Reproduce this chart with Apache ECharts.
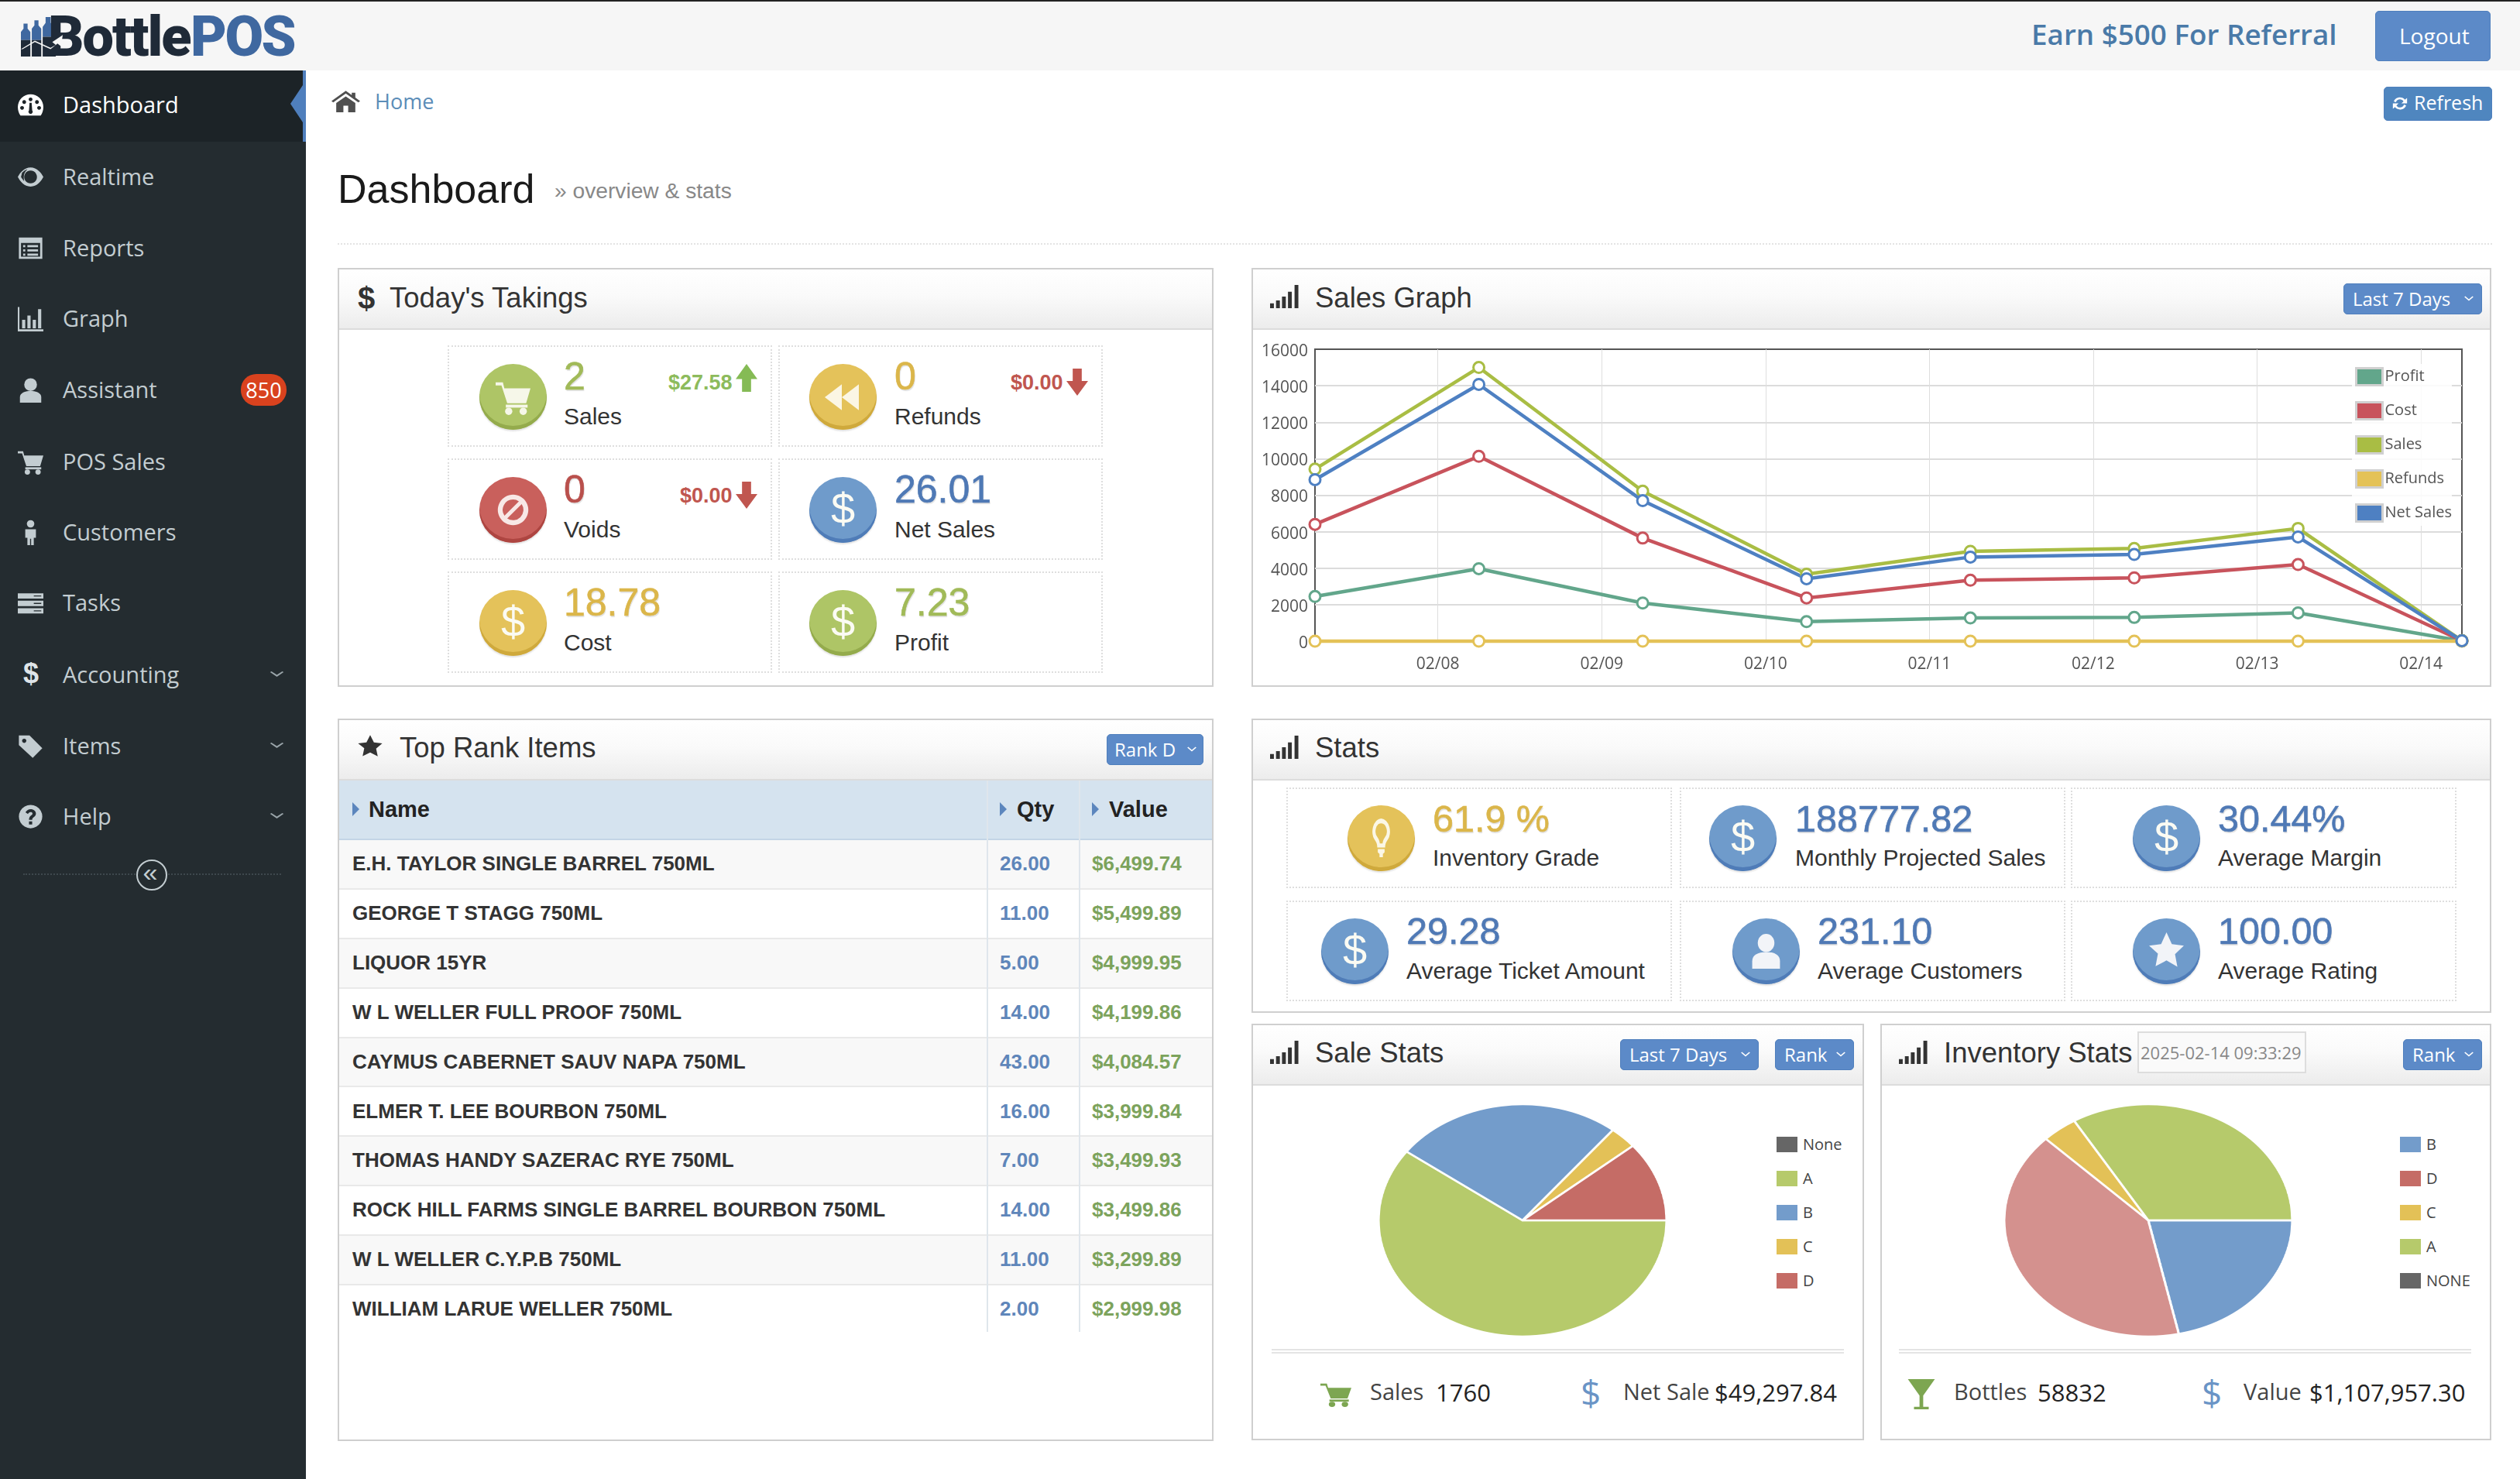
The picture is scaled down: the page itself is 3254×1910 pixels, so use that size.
<!DOCTYPE html>
<html>
<head>
<meta charset="utf-8">
<title>BottlePOS Dashboard</title>
<script src="https://cdn.jsdelivr.net/npm/echarts@6/dist/echarts.min.js"></script>
<style>
html, body { margin: 0; padding: 0; width: 3254px; height: 1910px; overflow: hidden; background: #fff; }
#page { position: absolute; left: 0; top: 0; width: 3254px; height: 1910px; overflow: hidden; font-family: "Liberation Sans", Arial, sans-serif; color: #333; }
#page div, #page span, #page svg { position: absolute; }
.t { white-space: nowrap; line-height: 1; transform: translateY(-50%); }
.os { font-family: "Open Sans", sans-serif; }
.panel { box-sizing: border-box; border: 2px solid #cfcfcf; background: #fff; }
.head { box-sizing: border-box; background: linear-gradient(#fff, #fafafa 45%, #ececec); border-bottom: 2px solid #dcdcdc; }
.tile { box-sizing: border-box; border: 2px dotted #dedede; }
.btn { box-sizing: border-box; background: #5c8ac8; border-radius: 5px; border: 1px solid #4f7fbd; }
.coin { border-radius: 50%; }
</style>
</head>
<body>
<div id="page"></div>
<script>
// ---- chart data ----
const salesSeriesNames = ['Profit', 'Cost', 'Sales', 'Refunds', 'Net Sales'];
const salesTimes = [
    Date.UTC(2025, 1, 7, 6), Date.UTC(2025, 1, 8, 6), Date.UTC(2025, 1, 9, 6), Date.UTC(2025, 1, 10, 6),
    Date.UTC(2025, 1, 11, 6), Date.UTC(2025, 1, 12, 6), Date.UTC(2025, 1, 13, 6), Date.UTC(2025, 1, 14, 6)
];
const profitValues = [2450, 3970, 2090, 1070, 1270, 1300, 1550, 7.23];
const costValues = [6400, 10130, 5650, 2370, 3340, 3470, 4200, 18.78];
const salesValues = [9430, 15000, 8220, 3670, 4925, 5080, 6180, 27.58];
const refundValues = [0, 0, 0, 0, 0, 0, 0, 0];
const netSalesValues = [8850, 14070, 7700, 3420, 4610, 4750, 5710, 26.01];
const salesColors = ['#62a68b', '#c8535c', '#a9bd44', '#e4c257', '#4e80c2'];

const saleStatNames = ['None', 'A', 'B', 'C', 'D'];
const saleStatValues = [0, 60.1, 25.7, 3.1, 11.1];
const saleStatColors = ['#666666', '#b6ca6b', '#739ccb', '#e3c157', '#c56c66'];

const invStatNames = ['B', 'D', 'C', 'A', 'NONE'];
const invStatValues = [21.6, 40.8, 4.0, 33.6, 0];
const invStatColors = ['#739ccb', '#d4918e', '#e3c157', '#b6ca6b', '#666666'];
const invLegendColors = ['#739ccb', '#c56c66', '#e3c157', '#b6ca6b', '#666666'];

// ---- page text ----
const menuItems = ['Dashboard', 'Realtime', 'Reports', 'Graph', 'Assistant', 'POS Sales', 'Customers', 'Tasks', 'Accounting', 'Items', 'Help'];
const menuIcons = ['gauge', 'eye', 'list', 'bars', 'user', 'cart', 'person', 'tasks', 'dollar', 'tag', 'help'];
const itemNames = [
    'E.H. TAYLOR SINGLE BARREL 750ML', 'GEORGE T STAGG 750ML', 'LIQUOR 15YR', 'W L WELLER FULL PROOF 750ML',
    'CAYMUS CABERNET SAUV NAPA 750ML', 'ELMER T. LEE BOURBON 750ML', 'THOMAS HANDY SAZERAC RYE 750ML',
    'ROCK HILL FARMS SINGLE BARREL BOURBON 750ML', 'W L WELLER C.Y.P.B 750ML', 'WILLIAM LARUE WELLER 750ML'
];
const itemQty = ['26.00', '11.00', '5.00', '14.00', '43.00', '16.00', '7.00', '14.00', '11.00', '2.00'];
const itemValue = ['$6,499.74', '$5,499.89', '$4,999.95', '$4,199.86', '$4,084.57', '$3,999.84', '$3,499.93', '$3,499.86', '$3,299.89', '$2,999.98'];

const page = document.getElementById('page');
const ICONS = {
    cart: '<path d="M0 2h5l1 4h18l-3 10H8L4 4H0z"/><rect x="7" y="17" width="15" height="2"/><circle cx="9" cy="21.5" r="2.5"/><circle cx="19" cy="21.5" r="2.5"/>',
    rewind: '<path d="M12 2v20L1 12zM23 2v20L12 12z"/>',
    ban: '<path fill-rule="evenodd" d="M12 1a11 11 0 1 0 .01 0zM12 4.500a7.500 7.500 0 0 1 4.200 1.300L5.800 16.200A7.500 7.500 0 0 1 12 4.500zM18.200 7.800a7.500 7.500 0 0 1-10.400 10.400z"/>',
    star: '<path d="M12 1l3.400 7.300 7.600.9-5.600 5.300 1.500 7.800L12 18.400 5.100 22l1.500-7.800L1 9.200l7.600-.9z"/>',
    user: '<circle cx="12" cy="7" r="6"/><path d="M2 24v-5c0-4 4-6 10-6s10 2 10 6v5z"/>',
    home: '<path d="M12 1L0 12l1.500 1.500L12 4l10.500 9.500L24 12l-4-3.700V3h-3v2.500zM4 14v10h6v-7h4v7h6V14l-8-7z"/>',
    signal: '<rect x="0" y="19" width="3.200" height="5"/><rect x="5" y="16" width="3.200" height="8"/><rect x="10" y="12" width="3.200" height="12"/><rect x="15" y="7" width="3.200" height="17"/><rect x="20.500" y="0" width="3.200" height="24"/>',
    eye: '<path fill-rule="evenodd" d="M12 3C6 3 2 8 0 12c2 4 6 9 12 9s10-5 12-9c-2-4-6-9-12-9zm0 3a6 6 0 1 1-.01 0zM4 8c1-1 3-3 5-3-3 2-4 6-3 11-1-1-3-4-3-4z"/>',
    list: '<path fill-rule="evenodd" d="M1 2h22v20H1zM3 7v13h18V7zM5 9h2v2H5zm4 0h10v2H9zM5 13h2v2H5zm4 0h10v2H9zM5 17h2v2H5zm4 0h10v2H9z"/>',
    bars: '<path d="M0 1h1.500v21H24v2H0zM4 13h3v8H4zM9 9h3v12H9zM14 13h3v8h-3zM19 3h3v18h-3z"/>',
    person: '<circle cx="12" cy="4" r="3.500"/><path d="M7 9h10v8h-2v7h-2.500v-6h-1v6H9v-7H7z"/>',
    tasks: '<path fill-rule="evenodd" d="M0 3h24v5H0zM15 5v1h7V5zM0 10h24v5H0zM15 12v1h7v-1zM0 17h24v5H0zM15 19v1h7v-1z"/>',
    tag: '<path fill-rule="evenodd" d="M1 2h10l12 12-9 9L1 11zM6 5a2 2 0 1 0 .01 0z"/>',
    help: '<path fill-rule="evenodd" d="M12 1a11 11 0 1 0 .01 0zM12 5c3 0 5 1.800 5 4.200 0 3-3.500 3.200-3.500 5.800h-3c0-4 3.300-4.200 3.300-5.800 0-.8-.8-1.300-1.800-1.300-1.100 0-2 .7-2.500 1.700L7.200 8C8.200 6.200 9.800 5 12 5zM10.500 16.500h3v3h-3z"/>',
    gauge: '<path fill-rule="evenodd" d="M12 2a12 12 0 0 0-12 12c0 3 1 6 2.500 8h19c1.500-2 2.500-5 2.500-8A12 12 0 0 0 12 2zM12 5a1.800 1.800 0 1 1-.01 0zM6 7.500a1.800 1.800 0 1 1-.01 0zM18 7.500a1.800 1.800 0 1 1-.01 0zM4 13a1.800 1.800 0 1 1-.01 0zM20 13a1.800 1.800 0 1 1-.01 0zM11 10h2l.5 7a2 2 0 1 1-3 0z"/>',
    glass: '<path d="M1 0h22L13.500 13v9H18v2H6v-2h4.500v-9z"/>',
    refresh: '<path d="M12 3c3 0 5.500 1.300 7 3.500L22 4v8h-8l3-3c-1-1.800-3-3-5-3-2.800 0-5 1.800-5.700 4.300L3.300 9C4.400 5.500 7.900 3 12 3zM2 12h8l-3 3c1 1.800 3 3 5 3 2.800 0 5-1.800 5.700-4.300l3 1.300C19.600 18.500 16.100 21 12 21c-3 0-5.500-1.300-7-3.500L2 20z"/>',
    bulb: '<path fill-rule="evenodd" d="M12 0a8 8 0 0 0-5 14c1.200 1.200 1.500 2.500 1.500 4h7c0-1.500.3-2.800 1.500-4a8 8 0 0 0-5-14zm0 3a5 5 0 0 1 3 9c-1 1-1.500 2-1.800 3.500h-2.400C10.500 14 10 13 9 12a5 5 0 0 1 3-9zM9 19h6v2l-1.500 1v2h-3v-2L9 21z"/>',
    up: '<path d="M12 0l12 13h-7v11H7V13H0z"/>',
    down: '<path d="M7 0h10v11h7L12 24 0 11h7z"/>',
    chev: '<path d="M2 7l2-2 8 8 8-8 2 2-10 10z"/>',
    logoDark: '<path d="M0 24V14h6.500v10zM7.500 24V14H14v10zM15 24V12h9v12z"/>',
    logoBlue: '<path d="M0 14V9l1.800-2V4h2.800v3l1.900 2v5zM7.500 14V7l1.800-2V2h2.800v3L14 7v7zM15 12V6l2-2.500V0h3.500v3.500L24 6v6z" fill="#3f68a0"/>',
    logoLine: '<path d="M0 21l8-6 9 5L20 18l-2-2 6-5-1 8-2-2-4 4-9-5-7 5z"/>'
};

function box(x, y, w, h, cls, css) {
    const el = document.createElement('div');
    if (cls) el.className = cls;
    el.style.cssText = `left:${x}px;top:${y}px;width:${w}px;height:${h}px;${css || ''}`;
    page.appendChild(el);
    return el;
}

function txt(s, x, cy, size, color, css, cls) {
    const el = document.createElement('span');
    el.className = 't ' + (cls || '');
    el.textContent = s;
    el.style.cssText = `left:${x}px;top:${cy}px;font-size:${size}px;color:${color};${css || ''}`;
    page.appendChild(el);
    return el;
}

function ico(name, x, y, w, h, color) {
    const holder = document.createElementNS('http://www.w3.org/2000/svg', 'svg');
    holder.setAttribute('viewBox', '0 0 24 24');
    holder.setAttribute('preserveAspectRatio', 'none');
    holder.style.cssText = `left:${x}px;top:${y}px;width:${w}px;height:${h}px;fill:${color};`;
    holder.innerHTML = ICONS[name];
    page.appendChild(holder);
}

function button(label, x, y, w, h) {
    box(x, y, w, h, 'btn');
    txt(label, x + 12, y + h / 2, 24, '#fff', '', 'os');
    ico('chev', x + w - 24, y + h / 2 - 6, 14, 12, '#fff');
}

function panel(x, y, w, h, headH) {
    box(x, y, w, h, 'panel');
    box(x + 2, y + 2, w - 4, headH, 'head');
}

function coin(x, y, color, dark, icon) {
    box(x, y, 87, 85, 'coin', `background:${color};box-shadow:inset 0 -5px 0 ${dark},0 2px 2px rgba(0,0,0,.12);`);
    if (icon === '$') {
        txt('$', x + 43.500, y + 41, 56, '#fbfbf3', 'transform:translate(-50%,-50%);');
    } else if (icon === 'user') {
        ico('user', x + 22, y + 18, 43, 47, '#f2f4f8');
    } else if (icon === 'star') {
        ico('star', x + 19, y + 16, 49, 50, '#f2f4f8');
    } else if (icon === 'bulb') {
        ico('bulb', x + 26, y + 17, 35, 50, '#fbf7e6');
    } else if (icon === 'cart') {
        ico('cart', x + 21, y + 20, 45, 46, '#f6f7e9');
    } else if (icon === 'rewind') {
        ico('rewind', x + 18, y + 23, 48, 40, '#fbf6e4');
    } else if (icon === 'ban') {
        ico('ban', x + 22, y + 21, 43, 43, '#f8e8e6');
    }
}

const GREEN = ['#aec566', '#94ab4c', '#a1ba58'];
const YELLOW = ['#e4c25a', '#cfa93c', '#dbb64a'];
const RED = ['#c9605c', '#ae4541', '#b9504c'];
const BLUE = ['#6f9bcb', '#4f7cb8', '#4f79b5'];

function tile(x, y, w, h, coinX, textX, theme, icon, value, label, coinY, valueY, labelY, valueSize) {
    box(x, y, w, h, 'tile');
    coin(coinX, coinY, theme[0], theme[1], icon);
    txt(value, textX, valueY, valueSize || 50, theme[2], '-webkit-text-stroke:0.6px;text-shadow:1px 2px 1px rgba(0,0,0,.12);');
    txt(label, textX, labelY, 30, '#333');
}

// ---- top bar ----
box(0, 0, 3254, 91, '', 'background:#f6f6f6;border-top:2px solid #222;box-sizing:border-box;');
ico('logoBlue', 27, 22, 45, 51, '#3f68a0');
ico('logoDark', 27, 22, 45, 51, '#1f2a38');
txt('Bottle', 62, 48, 72, '#1f2a38', 'font-family:Roboto;font-weight:900;letter-spacing:-2px;');
txt('POS', 246, 48, 72, '#3f68a0', 'font-family:Roboto;font-weight:900;letter-spacing:-2.500px;');
ico('logoLine', 27, 25, 54, 44, '#f6f6f6');
txt('Earn $500 For Referral', 2623, 44, 36.800, '#4a7aa8', 'font-weight:600;', 'os');
box(3067, 14, 149, 65, 'btn');
txt('Logout', 3098, 46, 28, '#fff', '', 'os');

// ---- side menu ----
box(0, 91, 395, 1819, '', 'background:#242c30;');
box(0, 91, 391, 92, '', 'background:#1c2327;');
box(391, 91, 4, 92, '', 'background:#4f7fbd;');
box(375, 104, 20, 60, '', 'background:#4f7fbd;clip-path:polygon(100% 0,0 50%,100% 100%);');
const menuY = [134, 227, 319, 410, 502, 595, 686, 777, 870, 962, 1053];
menuItems.forEach((m, i) => {
    const c = i === 0 ? '#ffffff' : '#c3cdd1';
    if (menuIcons[i] === 'dollar') txt('$', 30, menuY[i], 36, '#dfe5e8', 'font-weight:bold;');
    else ico(menuIcons[i], 23, menuY[i] - 15, 33, 33, i === 0 ? '#fff' : '#c3cdd1');
    txt(m, 81, menuY[i], 29, c, '', 'os');
});
box(311, 483, 59, 41, '', 'background:#d9421e;border-radius:20px;');
txt('850', 340.500, 503, 27, '#fff', 'transform:translate(-50%,-50%);', 'os');
[871, 963, 1054].forEach(y => ico('chev', 347, y - 7, 21, 14, '#9aa5aa'));
box(30, 1128, 333, 2, '', 'border-top:2px dotted #3e484d;');
box(176, 1110, 36, 36, '', 'border:2px solid #c3cdd1;border-radius:50%;background:#242c30;');
txt('«', 194, 1126, 34, '#c3cdd1', 'transform:translate(-50%,-50%);');

// ---- breadcrumb and title ----
ico('home', 428, 116, 37, 29, '#4f4f4f');
txt('Home', 484, 130, 27, '#5b8db8', '', 'os');
box(3078, 112, 140, 44, 'btn', 'background:#4f86bf;');
ico('refresh', 3088, 123, 22, 21, '#fff');
txt('Refresh', 3117, 132, 25, '#fff', '', 'os');
txt('Dashboard', 436, 244, 52, '#1a1a1a');
txt('» overview & stats', 716, 246, 28.200, '#888');
box(436, 314, 2782, 2, '', 'border-top:2px dotted #e3e3e3;');

// ---- Today's Takings ----
panel(436, 346, 1131, 541, 78);
txt('$', 462, 385, 40, '#333', 'font-weight:bold;');
txt("Today's Takings", 503, 385, 36.500, '#333');
tile(578, 446, 419, 131, 619, 728, GREEN, 'cart', '2', 'Sales', 470, 486, 538);
tile(1005, 446, 419, 131, 1045, 1155, YELLOW, 'rewind', '0', 'Refunds', 470, 486, 538);
tile(578, 592, 419, 131, 619, 728, RED, 'ban', '0', 'Voids', 616, 632, 684);
tile(1005, 592, 419, 131, 1045, 1155, BLUE, '$', '26.01', 'Net Sales', 616, 632, 684);
tile(578, 738, 419, 131, 619, 728, YELLOW, '$', '18.78', 'Cost', 762, 778, 830);
tile(1005, 738, 419, 131, 1045, 1155, GREEN, '$', '7.23', 'Profit', 762, 778, 830);
txt('$27.58', 863, 494, 27, '#8dbb5c', 'font-weight:bold;');
ico('up', 950, 470, 28, 36, '#85bb55');
txt('$0.00', 1305, 494, 27, '#c0564f', 'font-weight:bold;');
ico('down', 1377, 476, 28, 35, '#c0564f');
txt('$0.00', 878, 640, 27, '#c0564f', 'font-weight:bold;');
ico('down', 950, 622, 28, 35, '#c0564f');

// ---- Sales Graph ----
panel(1616, 346, 1601, 541, 78);
ico('signal', 1640, 368, 37, 30, '#333');
txt('Sales Graph', 1698, 385, 36.500, '#333');
button('Last 7 Days', 3026, 366, 179, 40);

// ---- Top Rank Items ----
panel(436, 928, 1131, 933, 78);
ico('star', 461, 948, 34, 31, '#333');
txt('Top Rank Items', 516, 966, 36.500, '#333');
box(1429, 948, 125, 40, 'btn');
txt('Rank D', 1439, 968, 24, '#fff', '', 'os');
ico('chev', 1532, 962, 14, 12, '#fff');
box(438, 1008, 1127, 77, '', 'background:#d5e3ef;border-bottom:2px solid #c3d5e6;box-sizing:border-box;');
[[455, 'Name', 476], [1291, 'Qty', 1313], [1410, 'Value', 1432]].forEach(h => {
    box(h[0], 1036, 9, 18, '', 'background:#5c86bd;clip-path:polygon(0 0,100% 50%,0 100%);');
    txt(h[1], h[2], 1045, 29, '#222', 'font-weight:bold;');
});
itemNames.forEach((name, i) => {
    const top = 1085 + i * 63.900;
    const rule = i < itemNames.length - 1 ? 'border-bottom:2px solid #e9e9e9;' : '';
    box(438, top, 1127, 63.900, '', `box-sizing:border-box;${rule}background:${i % 2 ? '#fff' : '#f8f8f8'};`);
    const cy = top + 30;
    txt(name, 455, cy, 26, '#333', 'font-weight:bold;');
    txt(itemQty[i], 1291, cy, 26, '#5f86ba', 'font-weight:bold;');
    txt(itemValue[i], 1410, cy, 26, '#7ca35c', 'font-weight:bold;');
});
box(1274, 1008, 2, 712, '', 'background:#dfe6ec;');
box(1393, 1008, 2, 712, '', 'background:#dfe6ec;');

// ---- Stats ----
panel(1616, 928, 1601, 380, 78);
ico('signal', 1640, 950, 37, 30, '#333');
txt('Stats', 1698, 966, 36.500, '#333');
tile(1661, 1017, 498, 130, 1740, 1850, YELLOW, 'bulb', '61.9 %', 'Inventory Grade', 1040, 1057, 1108, 48.500);
tile(2169, 1017, 498, 130, 2207, 2318, BLUE, '$', '188777.82', 'Monthly Projected Sales', 1040, 1057, 1108, 48.500);
tile(2674, 1017, 498, 130, 2754, 2864, BLUE, '$', '30.44%', 'Average Margin', 1040, 1057, 1108, 48.500);
tile(1661, 1163, 498, 130, 1706, 1816, BLUE, '$', '29.28', 'Average Ticket Amount', 1186, 1202, 1254, 48.500);
tile(2169, 1163, 498, 130, 2237, 2347, BLUE, 'user', '231.10', 'Average Customers', 1186, 1202, 1254, 48.500);
tile(2674, 1163, 498, 130, 2754, 2864, BLUE, 'star', '100.00', 'Average Rating', 1186, 1202, 1254, 48.500);

// ---- Sale Stats / Inventory Stats ----
panel(1616, 1322, 791, 538, 78);
ico('signal', 1640, 1344, 37, 30, '#333');
txt('Sale Stats', 1698, 1360, 36.500, '#333');
button('Last 7 Days', 2092, 1342, 179, 40);
button('Rank', 2292, 1342, 102, 40);
panel(2428, 1322, 789, 538, 78);
ico('signal', 2452, 1344, 37, 30, '#333');
txt('Inventory Stats', 2510, 1360, 36.500, '#333');
box(2760, 1332, 218, 54, '', 'box-sizing:border-box;border:2px solid #ddd;background:#fafafa;');
txt('2025-02-14 09:33:29', 2764, 1359, 22, '#888', '', 'os');
button('Rank', 3103, 1342, 102, 40);

function pieLegend(names, colors, x) {
    names.forEach((n, i) => {
        const y = 1468 + i * 44;
        box(x, y, 27, 20, '', `background:${colors[i]};`);
        txt(n, x + 34, y + 10, 20, '#444', '', 'os');
    });
}
pieLegend(saleStatNames, saleStatColors, 2294);
pieLegend(invStatNames, invLegendColors, 3099);

[[1642, 739], [2452, 739]].forEach(d => {
    box(d[0], 1742, d[1], 6, '', 'box-sizing:border-box;border-top:2px solid #e4e4e4;border-bottom:2px solid #e4e4e4;');
});
ico('cart', 1705, 1784, 40, 33, '#7da651');
txt('Sales', 1769, 1796, 29, '#444', '', 'os');
txt('1760', 1854, 1798, 31, '#222', '', 'os');
txt('$', 2041, 1798, 46, '#6a94c6', '', 'os');
txt('Net Sale', 2096, 1796, 29, '#444', '', 'os');
txt('$49,297.84', 2214, 1798, 31, '#222', '', 'os');
ico('glass', 2462, 1781, 38, 39, '#7da651');
txt('Bottles', 2523, 1796, 29, '#444', '', 'os');
txt('58832', 2631, 1798, 31, '#222', '', 'os');
txt('$', 2843, 1798, 46, '#6a94c6', '', 'os');
txt('Value', 2897, 1796, 29, '#444', '', 'os');
txt('$1,107,957.30', 2982, 1798, 31, '#222', '', 'os');

// ---- charts ----
box(1618, 425, 1597, 460).id = 'salesGraph';
const PIE_RADIUS = 150;
const PIE_STRETCH = 186 / 150;
const pieBox = PIE_RADIUS * 2 + 8;
box(1966 - pieBox / 2, 1576 - pieBox / 2, pieBox, pieBox, '', `transform:scaleX(${PIE_STRETCH});`).id = 'salePie';
box(2774 - pieBox / 2, 1576 - pieBox / 2, pieBox, pieBox, '', `transform:scaleX(${PIE_STRETCH});`).id = 'invPie';

function renderSalesGraph() {
    const chart = echarts.init(document.getElementById('salesGraph'));
    const seriesValues = [profitValues, costValues, salesValues, refundValues, netSalesValues];
    chart.setOption({
        animation: false,
        useUTC: true,
        color: salesColors,
        grid: { left: 80, right: 36, top: 26, bottom: 57, show: true, borderColor: '#555', borderWidth: 2 },
        legend: {
            orient: 'vertical', right: 49, top: 45,
            icon: 'rect', itemWidth: 34, itemHeight: 22, itemGap: 19,
            backgroundColor: 'rgba(255,255,255,0.85)',
            padding: [4, 0, 4, 4],
            itemStyle: { borderColor: '#d0d0d0', borderWidth: 3 },
            textStyle: { fontFamily: 'Open Sans', fontSize: 20, color: '#545454', padding: [0, 0, 0, -2] },
            data: salesSeriesNames.map((n, i) => ({
                name: n,
                itemStyle: { color: salesColors[i], borderColor: '#d0d0d0', borderWidth: 3 }
            }))
        },
        xAxis: {
            type: 'time',
            min: salesTimes[0],
            max: salesTimes[salesTimes.length - 1],
            minInterval: 86400000,
            maxInterval: 86400000,
            axisLine: { show: false },
            axisTick: { show: false },
            splitLine: { show: true, showMinLine: false, showMaxLine: false, lineStyle: { color: '#dedede', width: 1 } },
            axisLabel: {
                color: '#545454', fontFamily: 'Open Sans', fontSize: 21, margin: 20,
                showMinLabel: false, showMaxLabel: false,
                formatter: '{MM}/{dd}'
            }
        },
        yAxis: {
            type: 'value', min: 0, max: 16000, interval: 2000,
            axisLine: { show: false },
            axisTick: { show: false },
            splitLine: { showMinLine: false, showMaxLine: false, lineStyle: { color: '#dcdcdc', width: 2 } },
            axisLabel: {
                color: '#545454', fontFamily: 'Open Sans', fontSize: 21, margin: 9,
                verticalAlign: 'top', lineHeight: 6, formatter: v => String(v)
            }
        },
        series: salesSeriesNames.map((name, i) => ({
            name: name,
            type: 'line',
            clip: false,
            symbol: 'circle',
            symbolSize: 14,
            showAllSymbol: true,
            lineStyle: { width: 4.5, color: salesColors[i] },
            itemStyle: { color: '#fff', borderColor: salesColors[i], borderWidth: 3 },
            data: salesTimes.map((t, k) => [t, seriesValues[i][k]])
        }))
    });
}

function renderPie(id, names, values, colors) {
    const chart = echarts.init(document.getElementById(id), null, { devicePixelRatio: 2 });
    chart.setOption({
        animation: false,
        series: [{
            type: 'pie',
            radius: [0, PIE_RADIUS],
            center: ['50%', '50%'],
            startAngle: 0,
            clockwise: true,
            stillShowZeroSum: false,
            label: { show: false },
            labelLine: { show: false },
            itemStyle: { borderColor: '#fff', borderWidth: 2.500 },
            data: names.map((n, i) => ({ name: n, value: values[i], itemStyle: { color: colors[i] } }))
        }]
    });
}

renderSalesGraph();
renderPie('salePie', saleStatNames, saleStatValues, saleStatColors);
renderPie('invPie', invStatNames, invStatValues, invStatColors);
</script>
</body>
</html>
